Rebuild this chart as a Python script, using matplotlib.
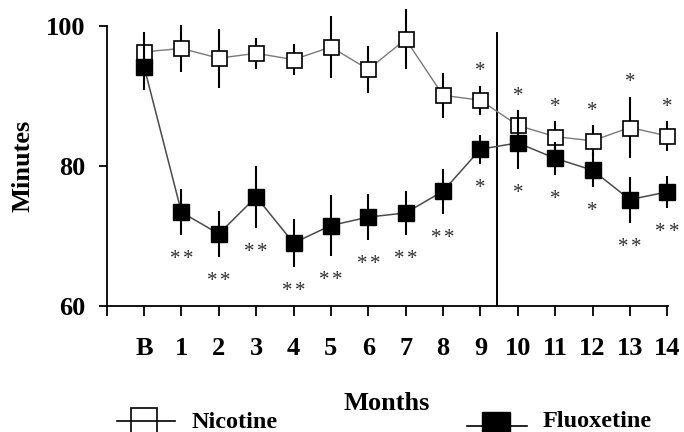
import matplotlib
matplotlib.use("Agg")
import matplotlib.pyplot as plt
from matplotlib.lines import Line2D
import numpy as np

# Months of treatment (B = baseline)
month_labels = ["B", "1", "2", "3", "4", "5", "6", "7", "8", "9",
                "10", "11", "12", "13", "14"]

# Mean minutes and error for each group
nicotine_mean = [96.3, 96.8, 95.4, 96.1, 95.2, 97.0, 93.8, 98.1, 90.1, 89.4,
                 85.8, 84.2, 83.6, 85.5, 84.3]
nicotine_err = [2.9, 3.3, 4.2, 2.2, 2.2, 4.4, 3.3, 4.3, 3.2, 2.1,
                2.2, 2.2, 2.2, 4.4, 2.1]
fluoxetine_mean = [94.2, 73.4, 70.3, 75.6, 69.0, 71.5, 72.7, 73.3, 76.4, 82.4,
                   83.3, 81.1, 79.4, 75.2, 76.3]
fluoxetine_err = [3.4, 3.3, 3.3, 4.4, 3.4, 4.4, 3.3, 3.2, 3.2, 2.1,
                  3.7, 2.4, 2.4, 3.3, 2.3]

# Significance marks (above nicotine, below fluoxetine)
nicotine_sig = ["", "", "", "", "", "", "", "", "", "*",
                "*", "*", "*", "*", "*"]
fluoxetine_sig = ["", "**", "**", "**", "**", "**", "**", "**", "**", "*",
                  "*", "*", "*", "**", "**"]

serif = ["Liberation Serif", "DejaVu Serif"]

W, H = 684, 432
fig = plt.figure(figsize=(W / 100, H / 100), dpi=100)
left, right, top, bottom = 106.7, 668.0, 26.0, 306.0
ax = fig.add_axes([left / W, 1 - bottom / H, (right - left) / W, (bottom - top) / H])

x = np.arange(len(month_labels))

# Nicotine: open squares
ax.plot(x, nicotine_mean, color="#7a7a7a", lw=1.0, zorder=2, clip_on=False)
ax.errorbar(x, nicotine_mean, yerr=nicotine_err, fmt="none", ecolor="black",
            elinewidth=1.5, capsize=0, zorder=3, clip_on=False)
ax.plot(x, nicotine_mean, ls="none", marker="s", ms=10.8, mfc="white",
        mec="black", mew=1.2, zorder=4, clip_on=False)

# Fluoxetine: filled squares
ax.plot(x, fluoxetine_mean, color="#4a4a4a", lw=1.1, zorder=5, clip_on=False)
ax.errorbar(x, fluoxetine_mean, yerr=fluoxetine_err, fmt="none", ecolor="black",
            elinewidth=1.5, capsize=0, zorder=6, clip_on=False)
ax.plot(x, fluoxetine_mean, ls="none", marker="s", ms=11.5, mfc="black",
        mec="black", mew=1.0, zorder=7, clip_on=False)


def stars(xi, y, count, dy):
    """Draw `count` asterisks side by side, offset dy points from (xi, y)."""
    spread = 4.7
    offsets = [0.0] if count == 1 else [-spread, spread]
    for dx in offsets:
        ax.annotate("*", (xi, y), xytext=(dx, dy), textcoords="offset points",
                    ha="center", va="baseline", fontsize=15, color="#2e2e2e",
                    family=serif, annotation_clip=False)


for xi, m, e, s in zip(x, nicotine_mean, nicotine_err, nicotine_sig):
    if s:
        stars(xi, m + e, len(s), 6.8)
for xi, m, e, s in zip(x, fluoxetine_mean, fluoxetine_err, fluoxetine_sig):
    if s:
        stars(xi, m - e, len(s), -21.0)

# Divider between month 9 and month 10
ax.plot([9.45, 9.45], [60, 99], color="black", lw=1.4, zorder=1)

ax.set_xlim(-1, 14.02)
ax.set_ylim(60, 100)
ax.set_xticks(np.arange(-1, len(month_labels)))
ax.set_xticklabels([""] + month_labels)
ax.set_yticks([60, 80, 100])
ax.set_yticklabels(["60", "80", "100"])

for side in ("top", "right"):
    ax.spines[side].set_visible(False)
for side in ("left", "bottom"):
    ax.spines[side].set_linewidth(1.3)

ax.tick_params(axis="x", direction="out", length=7, width=1.3, pad=15,
               labelsize=19)
ax.tick_params(axis="y", direction="out", length=6, width=1.3, pad=9,
               labelsize=19)
for lab in ax.get_xticklabels() + ax.get_yticklabels():
    lab.set_family(serif)
    lab.set_fontweight("bold")

fig.text(23 / W, 1 - 166 / H, "Minutes", rotation=90, ha="center",
         va="center", fontsize=19, fontweight="bold", family=serif)
fig.text(387 / W, 1 - 410 / H, "Months", ha="center", va="baseline",
         fontsize=19, fontweight="bold", family=serif)

# Legend drawn in figure pixels
def fx(px):
    return px / W

def fy(py):
    return 1 - py / H

fig.add_artist(Line2D([fx(117), fx(175)], [fy(421), fy(421)], color="black",
                      lw=1.2, transform=fig.transFigure))
fig.add_artist(Line2D([fx(144)], [fy(421)], marker="s", ms=18.5, mfc="none",
                      mec="black", mew=1.2, transform=fig.transFigure))
fig.text(fx(192), fy(428), "Nicotine", ha="left", va="baseline", fontsize=17.5,
         fontweight="bold", family=serif)

fig.add_artist(Line2D([fx(467), fx(527)], [fy(426), fy(426)], color="black",
                      lw=1.2, transform=fig.transFigure))
fig.add_artist(Line2D([fx(495.5)], [fy(426)], marker="s", ms=20.5, mfc="black",
                      mec="black", mew=1.0, transform=fig.transFigure))
fig.text(fx(543), fy(427), "Fluoxetine", ha="left", va="baseline",
         fontsize=17.5, fontweight="bold", family=serif)

fig.savefig("out.png", dpi=100)
